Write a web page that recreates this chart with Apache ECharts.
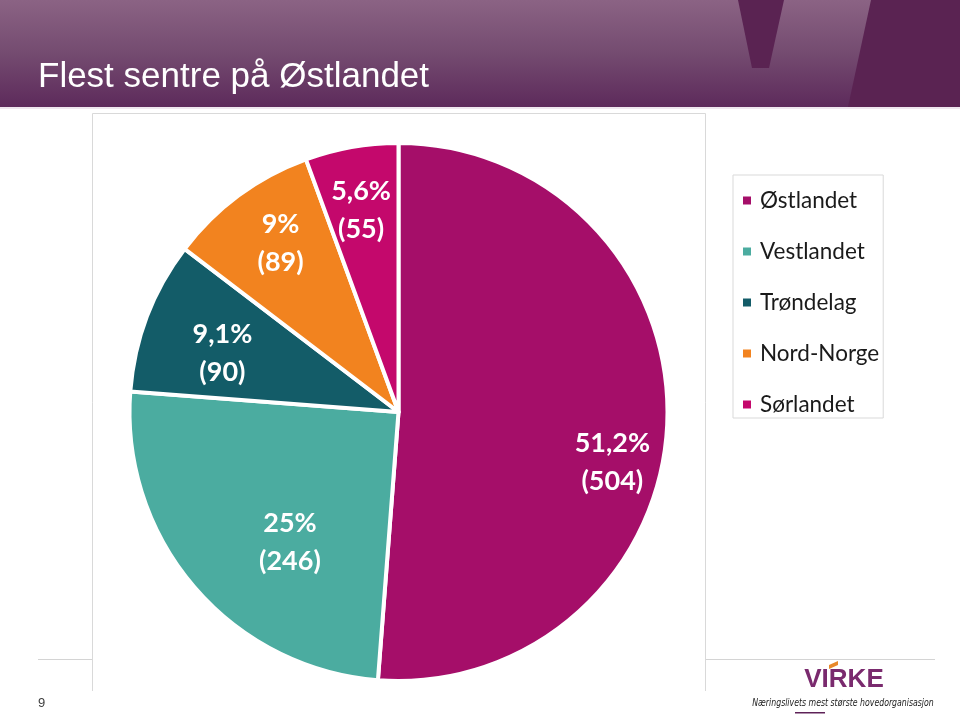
<!DOCTYPE html>
<html>
<head>
<meta charset="utf-8">
<script src="https://cdn.jsdelivr.net/npm/echarts@6/dist/echarts.min.js"></script>
<style>
  html, body { margin: 0; padding: 0; background: #ffffff; }
  #chart { width: 960px; height: 717px; }
</style>
</head>
<body>
<div id="chart"></div>
<script>
// ---- data ----
const titleText = 'Flest sentre på Østlandet';
const regions = ['Østlandet', 'Vestlandet', 'Trøndelag', 'Nord-Norge', 'Sørlandet'];
const centreCounts = [504, 246, 90, 89, 55];
const pageNumber = '9';

// ---- styling ----
const sliceColors = ['#A50E69', '#4BACA0', '#135C68', '#F2831F', '#C4086C'];
const labelNudge = {
  'Østlandet': [17, 43],
  'Vestlandet': [41, 2],
  'Trøndelag': [8, 11],
  'Nord-Norge': [-1, -10],
  'Sørlandet': [-3, -8]
};

const total = centreCounts.reduce((a, b) => a + b, 0);
function pctText(v) {
  return (v / total * 100).toFixed(1).replace(/\.0$/, '').replace('.', ',') + '%';
}

const chart = echarts.init(document.getElementById('chart'), null, { renderer: 'canvas' });

const pieData = regions.map((name, i) => ({
  name: name,
  value: centreCounts[i],
  itemStyle: { color: sliceColors[i] }
}));
const labelData = regions.map((name, i) => ({
  name: name,
  value: centreCounts[i],
  label: { offset: labelNudge[name] }
}));

const option = {
  animation: false,
  backgroundColor: '#ffffff',
  graphic: [
    // header band
    {
      type: 'rect', z: -10,
      shape: { x: 0, y: 0, width: 960, height: 107 },
      style: {
        fill: new echarts.graphic.LinearGradient(0, 0, 0, 1, [
          { offset: 0, color: '#8b6384' },
          { offset: 0.5, color: '#744b70' },
          { offset: 1, color: '#5d2a5b' }
        ])
      }
    },
    {
      type: 'rect', z: -10,
      shape: { x: 0, y: 107, width: 960, height: 2 },
      style: { fill: '#efe6ee' }
    },
    // decorative V
    {
      type: 'polygon', z: -9,
      shape: { points: [[738, 0], [784, 0], [769, 68], [752, 68]] },
      style: { fill: '#5a2352' }
    },
    {
      type: 'polygon', z: -9,
      shape: { points: [[871, 0], [960, 0], [960, 107], [848, 107]] },
      style: { fill: '#5a2352' }
    },
    {
      type: 'text', z: 5,
      style: {
        x: 38, y: 77, text: titleText,
        fill: '#ffffff',
        font: '35px "Liberation Sans", Arial, sans-serif',
        verticalAlign: 'middle'
      }
    },
    // page rule
    {
      type: 'rect', z: -8,
      shape: { x: 38, y: 659, width: 897, height: 1 },
      style: { fill: '#d4d4d4' }
    },
    // chart box
    {
      type: 'rect', z: -7,
      shape: { x: 92.5, y: 113.5, width: 613, height: 578 },
      style: { fill: '#ffffff', stroke: null }
    },
    {
      type: 'polyline', z: -6,
      shape: { points: [[92.5, 691], [92.5, 113.5], [705.5, 113.5], [705.5, 691]] },
      style: { stroke: '#d9d9d9', lineWidth: 1, fill: null }
    },
    // page number
    {
      type: 'text', z: 5,
      style: {
        x: 38, y: 703, text: pageNumber, fill: '#404040',
        font: '13px "Liberation Sans", Arial, sans-serif',
        verticalAlign: 'middle'
      }
    },
    // logo
    {
      type: 'text', z: 5,
      style: {
        x: 844, y: 680, text: 'VIRKE',
        fill: '#7a2a6e',
        font: 'bold 26px "Liberation Sans", sans-serif',
        align: 'center', verticalAlign: 'middle'
      }
    },
    {
      type: 'polygon', z: 6,
      shape: { points: [[829, 665], [838, 661], [838, 665], [829, 669]] },
      style: { fill: '#e8892a' }
    },
    {
      type: 'text', z: 5,
      x: 843, y: 703,
      scaleX: 0.78,
      style: {
        x: 0, y: 0, text: 'Næringslivets mest største hovedorganisasjon',
        fill: '#222222',
        font: 'italic 10px "DejaVu Sans", sans-serif',
        align: 'center', verticalAlign: 'middle'
      }
    },
    {
      type: 'rect', z: 5,
      shape: { x: 795, y: 712, width: 30, height: 1.5 },
      style: { fill: '#5e2258' }
    }
  ],
  legend: {
    orient: 'vertical',
    left: 733,
    top: 175,
    data: regions,
    icon: 'rect',
    itemWidth: 10,
    itemHeight: 10,
    itemGap: 28,
    padding: [14, 4, 2, 8],
    borderColor: '#d9d9d9',
    borderWidth: 1,
    selectedMode: false,
    textStyle: {
      fontFamily: 'Lato, "Noto Sans", sans-serif',
      fontSize: 22.5,
      lineHeight: 22,
      color: '#1a1a1a',
      padding: [0, 0, 0, 3]
    }
  },
  series: [
    {
      type: 'pie',
      center: [398.5, 412],
      radius: [0, 269],
      startAngle: 90,
      clockwise: true,
      silent: true,
      label: { show: false },
      labelLine: { show: false },
      itemStyle: { borderColor: '#ffffff', borderWidth: 4 },
      data: pieData
    },
    {
      type: 'pie',
      center: [398.5, 412],
      radius: [120, 268],
      startAngle: 90,
      clockwise: true,
      silent: true,
      z: 5,
      itemStyle: { color: 'rgba(0,0,0,0)', borderWidth: 0 },
      labelLine: { show: false },
      label: {
        show: true,
        position: 'inside',
        color: '#ffffff',
        fontFamily: 'Lato, "Noto Sans", sans-serif',
        fontWeight: 'bold',
        fontSize: 27,
        lineHeight: 38,
        align: 'center',
        formatter: p => pctText(p.value) + '\n(' + p.value + ')'
      },
      data: labelData
    }
  ]
};

chart.setOption(option);
</script>
</body>
</html>
